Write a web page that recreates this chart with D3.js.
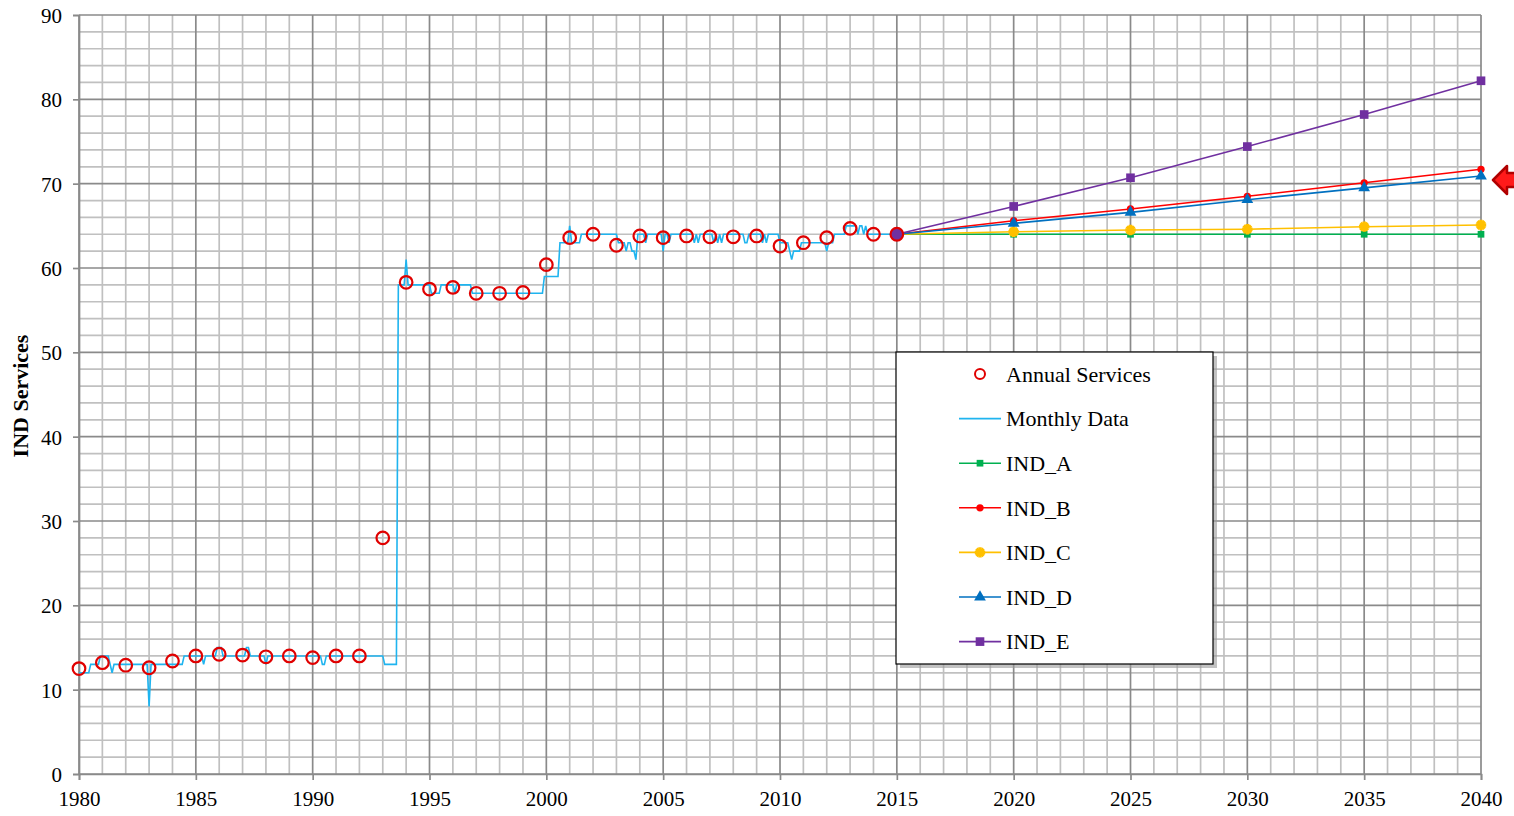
<!DOCTYPE html>
<html lang="en">

<head>
  <meta charset="UTF-8">
  <title>IND Services</title>
  <script src="https://cdn.jsdelivr.net/npm/d3@7"></script>
  <style type="text/css">
    html,
    body {
      margin: 0;
      background: #fff;
    }

    svg {
      display: block;
      font-family: "Liberation Serif", "Times New Roman", serif;
    }

    .minor {
      stroke: #c0c0c0;
      stroke-width: 1.7;
    }

    .major {
      stroke: #8a8a8a;
      stroke-width: 1.7;
    }
  </style>
</head>

<body>
  <script>
    // monthly data, one row per year starting 1980, last row is Jan 2015
    var monthlyStart = 1980;
    var monthlyData = [
      [12, 12, 12, 12, 12, 12, 13, 13, 13, 13, 13, 14],
      [14, 14, 14, 14, 13, 12, 13, 13, 13, 13, 13, 13],
      [13, 13, 13, 13, 13, 13, 13, 13, 13, 13, 13, 13],
      [8, 13, 13, 13, 13, 13, 13, 13, 13, 13, 13, 13],
      [13, 13, 13, 13, 13, 13, 14, 14, 14, 14, 14, 14],
      [14, 14, 14, 14, 13, 14, 14, 14, 14, 14, 14, 15],
      [15, 15, 14, 14, 14, 14, 14, 14, 14, 14, 14, 14],
      [14, 14, 15, 15, 14, 14, 14, 14, 14, 14, 14, 14],
      [13, 14, 14, 14, 14, 14, 14, 14, 14, 14, 14, 14],
      [14, 14, 14, 14, 14, 14, 14, 14, 14, 14, 14, 14],
      [14, 14, 14, 14, 14, 13, 13, 14, 14, 14, 14, 14],
      [14, 14, 14, 14, 14, 14, 14, 14, 14, 14, 14, 14],
      [14, 14, 14, 14, 14, 14, 14, 14, 14, 14, 14, 14],
      [14, 13, 13, 13, 13, 13, 13, 13, 58, 58, 58, 58],
      [61, 58, 58, 58, 58, 58, 58, 58, 58, 58, 58, 58],
      [58, 57, 57, 57, 57, 57, 58, 58, 58, 58, 58, 58],
      [58, 57, 58, 58, 58, 58, 58, 58, 58, 58, 57, 57],
      [57, 57, 57, 57, 57, 57, 57, 57, 57, 57, 57, 57],
      [57, 57, 57, 57, 57, 57, 57, 57, 57, 57, 57, 57],
      [57, 57, 57, 57, 57, 57, 57, 57, 57, 57, 57, 59],
      [59, 59, 59, 59, 59, 59, 59, 63, 63, 63, 63, 63],
      [65, 63, 63, 63, 63, 63, 64, 64, 64, 64, 64, 64],
      [64, 64, 64, 64, 64, 64, 64, 64, 64, 64, 64, 64],
      [64, 63, 63, 63, 63, 62, 63, 63, 62, 62, 61, 64],
      [64, 64, 64, 63, 64, 64, 64, 64, 64, 64, 64, 64],
      [62, 64, 64, 63, 64, 64, 64, 64, 64, 64, 64, 64],
      [64, 64, 64, 64, 63, 64, 63, 64, 64, 64, 64, 64],
      [64, 64, 63, 64, 63, 64, 63, 64, 64, 64, 64, 64],
      [64, 64, 64, 64, 64, 64, 63, 63, 64, 64, 64, 64],
      [64, 64, 64, 63, 64, 63, 64, 64, 64, 64, 64, 64],
      [63, 63, 63, 63, 63, 62, 61, 62, 62, 62, 62, 63],
      [63, 63, 63, 63, 63, 63, 63, 63, 63, 63, 63, 63],
      [62, 63, 63, 63, 64, 64, 64, 64, 64, 64, 65, 65],
      [65, 65, 65, 65, 64, 65, 65, 64, 65, 64, 64, 64],
      [64, 64, 64, 64, 64, 64, 64, 64, 64, 64, 64, 64],
      [64]
    ];

    var annualYears = d3.range(1980, 2016);
    var annualValues = [12.5, 13.2, 12.9, 12.6, 13.4, 14.0, 14.2, 14.1, 13.9, 14.0,
      13.8, 14.0, 14.0, 28.0, 58.3, 57.5, 57.7, 57.0, 57.0, 57.1,
      60.4, 63.6, 64.0, 62.7, 63.8, 63.6, 63.8, 63.7, 63.7, 63.8,
      62.6, 63.0, 63.6, 64.7, 64.0, 64.0];

    var projYears = [2015, 2020, 2025, 2030, 2035, 2040];
    var indA = [64, 64, 64, 64, 64, 64];
    var indB = [64, 65.6, 67.0, 68.5, 70.1, 71.7];
    var indC = [64, 64.3, 64.5, 64.6, 64.9, 65.1];
    var indD = [64, 65.3, 66.6, 68.1, 69.5, 70.9];
    var indE = [64, 67.3, 70.7, 74.4, 78.2, 82.2];

    var xTicks = [1980, 1985, 1990, 1995, 2000, 2005, 2010, 2015, 2020, 2025, 2030, 2035, 2040];
    var yTicks = [0, 10, 20, 30, 40, 50, 60, 70, 80, 90];

    var w = 1514;
    var h = 816;

    var x = d3.scaleLinear().domain([1980, 2040]).range([79, 1481]);
    var y = d3.scaleLinear().domain([0, 90]).range([774, 15]);

    var svg = d3.select('body')
      .append('svg')
      .attr('width', w)
      .attr('height', h);

    // grid
    var grid = svg.append('g');
    grid.selectAll('line.vminor')
      .data(d3.range(1981, 2040).filter(function (d) { return d % 5 !== 0; }))
      .enter().append('line')
      .attr('class', 'minor')
      .attr('x1', function (d) { return x(d); })
      .attr('x2', function (d) { return x(d); })
      .attr('y1', y(0))
      .attr('y2', y(90));
    grid.selectAll('line.hminor')
      .data(d3.range(2, 90, 2).filter(function (d) { return d % 10 !== 0; }))
      .enter().append('line')
      .attr('class', 'minor')
      .attr('x1', x(1980))
      .attr('x2', x(2040))
      .attr('y1', function (d) { return y(d); })
      .attr('y2', function (d) { return y(d); });
    grid.selectAll('line.vmajor')
      .data(xTicks)
      .enter().append('line')
      .attr('class', 'major')
      .attr('x1', function (d) { return x(d); })
      .attr('x2', function (d) { return x(d); })
      .attr('y1', y(0))
      .attr('y2', y(90));
    grid.selectAll('line.hmajor')
      .data(yTicks)
      .enter().append('line')
      .attr('class', 'major')
      .attr('x1', x(1980))
      .attr('x2', x(2040))
      .attr('y1', function (d) { return y(d); })
      .attr('y2', function (d) { return y(d); });

    // axes
    var xAxis = svg.append('g')
      .attr('transform', 'translate(0,' + y(0) + ')')
      .call(d3.axisBottom(x).tickValues(xTicks).tickFormat(d3.format('d')).tickSize(6).tickPadding(11));
    var yAxis = svg.append('g')
      .attr('transform', 'translate(' + x(1980) + ',0)')
      .call(d3.axisLeft(y).tickValues(yTicks).tickSize(6).tickPadding(11));
    [xAxis, yAxis].forEach(function (a) {
      a.select('.domain').attr('stroke', '#8a8a8a').attr('stroke-width', 1.7);
      a.selectAll('.tick line').attr('stroke', '#8a8a8a').attr('stroke-width', 1.7);
      a.selectAll('.tick text')
        .attr('font-family', '"Liberation Serif", serif')
        .attr('font-size', 21)
        .attr('fill', '#000');
    });
    yAxis.selectAll('.tick text').attr('dy', '0.35em');

    svg.append('text')
      .attr('transform', 'translate(28,396) rotate(-90)')
      .attr('text-anchor', 'middle')
      .attr('font-size', 22)
      .attr('font-weight', 'bold')
      .text('IND Services');

    // monthly line
    var monthly = [];
    monthlyData.forEach(function (row, i) {
      row.forEach(function (v, m) {
        monthly.push({ t: monthlyStart + i + m / 12, v: v });
      });
    });
    svg.append('path')
      .datum(monthly)
      .attr('fill', 'none')
      .attr('stroke', '#1fb4ef')
      .attr('stroke-width', 1.6)
      .attr('d', d3.line()
        .x(function (d) { return x(d.t); })
        .y(function (d) { return y(d.v); }));

    // projections
    var series = [
      { name: 'IND_A', values: indA, color: '#00b050', symbol: d3.symbolSquare, size: 45 },
      { name: 'IND_B', values: indB, color: '#ff0000', symbol: d3.symbolCircle, size: 42 },
      { name: 'IND_C', values: indC, color: '#ffc000', symbol: d3.symbolCross, size: 60 },
      { name: 'IND_D', values: indD, color: '#0070c0', symbol: d3.symbolTriangle, size: 60 },
      { name: 'IND_E', values: indE, color: '#7030a0', symbol: d3.symbolSquare, size: 75 }
    ];

    var lineFn = d3.line()
      .x(function (d) { return x(d[0]); })
      .y(function (d) { return y(d[1]); });

    series.forEach(function (s) {
      var pts = projYears.map(function (yr, i) { return [yr, s.values[i]]; });
      svg.append('path')
        .datum(pts)
        .attr('fill', 'none')
        .attr('stroke', s.color)
        .attr('stroke-width', 1.6)
        .attr('d', lineFn);
    });
    series.forEach(function (s) {
      var pts = projYears.map(function (yr, i) { return [yr, s.values[i]]; }).slice(1);
      svg.selectAll(null)
        .data(pts)
        .enter().append('path')
        .attr('transform', function (d) { return 'translate(' + x(d[0]) + ',' + y(d[1]) + ')'; })
        .attr('d', d3.symbol().type(s.symbol).size(s.size))
        .attr('fill', s.color);
      if (s.name === 'IND_C') {
        svg.selectAll(null)
          .data(pts)
          .enter().append('path')
          .attr('transform', function (d) { return 'translate(' + x(d[0]) + ',' + y(d[1]) + ') rotate(45)'; })
          .attr('d', d3.symbol().type(d3.symbolCross).size(s.size))
          .attr('fill', s.color);
      }
    });

    // annual circles
    svg.selectAll('circle.annual')
      .data(annualYears)
      .enter().append('circle')
      .attr('cx', function (d) { return x(d); })
      .attr('cy', function (d, i) { return y(annualValues[i]); })
      .attr('r', 6.3)
      .attr('fill', function (d) { return d === 2015 ? '#7030a0' : 'none'; })
      .attr('stroke', '#e00000')
      .attr('stroke-width', 2.2);

    // legend
    var lg = svg.append('g').attr('transform', 'translate(896,352)');
    lg.append('rect')
      .attr('x', 4).attr('y', 4)
      .attr('width', 317).attr('height', 312)
      .attr('fill', '#9a9a9a')
      .attr('opacity', 0.6);
    lg.append('rect')
      .attr('width', 317).attr('height', 312)
      .attr('fill', '#fff')
      .attr('stroke', '#000')
      .attr('stroke-width', 1.2);

    var legendItems = [{ name: 'Annual Services' }, { name: 'Monthly Data', color: '#1fb4ef' }].concat(series);
    legendItems.forEach(function (s, i) {
      var ly = 22 + i * 44.6;
      var row = lg.append('g').attr('transform', 'translate(0,' + ly + ')');
      if (i === 0) {
        row.append('circle')
          .attr('cx', 84).attr('cy', 0).attr('r', 5)
          .attr('fill', 'none').attr('stroke', '#e00000').attr('stroke-width', 2);
      } else {
        row.append('line')
          .attr('x1', 63).attr('x2', 105)
          .attr('stroke', s.color).attr('stroke-width', 1.6);
        if (s.symbol) {
          row.append('path')
            .attr('transform', 'translate(84,0)')
            .attr('d', d3.symbol().type(s.symbol).size(s.size))
            .attr('fill', s.color);
          if (s.name === 'IND_C') {
            row.append('path')
              .attr('transform', 'translate(84,0) rotate(45)')
              .attr('d', d3.symbol().type(d3.symbolCross).size(s.size))
              .attr('fill', s.color);
          }
        }
      }
      row.append('text')
        .attr('x', 110)
        .attr('dy', '0.35em')
        .attr('font-size', 22)
        .text(s.name);
    });

    // arrow on right edge
    svg.append('path')
      .attr('d', 'M1493,180 L1507,166 L1507,173 L1516,173 L1516,187 L1507,187 L1507,194 Z')
      .attr('fill', '#ff1a1a')
      .attr('stroke', '#b00000')
      .attr('stroke-width', 2.5)
      .attr('stroke-linejoin', 'round');
  </script>
</body>

</html>
